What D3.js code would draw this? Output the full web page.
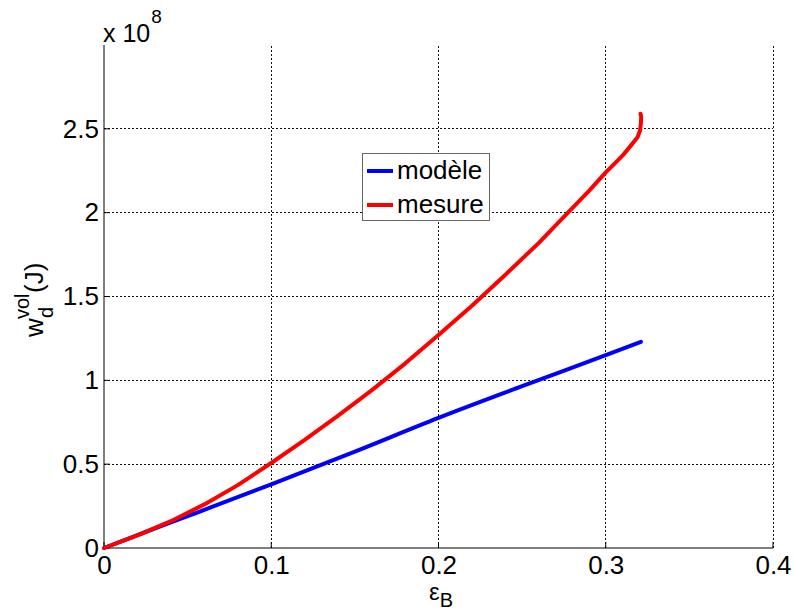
<!DOCTYPE html>
<html>
<head>
<meta charset="utf-8">
<script src="https://cdn.jsdelivr.net/npm/d3@7"></script>
<style>
  body { margin: 0; background: #fff; }
  svg { display: block; font-family: Arial, "Liberation Sans", sans-serif; }
</style>
</head>
<body>
<svg id="chart" width="794" height="615"></svg>
<script>
// Data (y in units of 1e8 J)
const modeleX = [0, 0.02, 0.05, 0.10, 0.15, 0.20, 0.25, 0.30, 0.321];
const modeleY = [0, 0.077, 0.19, 0.38, 0.575, 0.776, 0.965, 1.15, 1.23];

const mesureX = [0, 0.02, 0.04, 0.06, 0.08, 0.10, 0.12, 0.14, 0.16, 0.18, 0.20, 0.22, 0.24, 0.26, 0.2774, 0.29, 0.30, 0.305, 0.31, 0.315, 0.319, 0.3205, 0.321, 0.3212, 0.3208];
const mesureY = [0, 0.075, 0.16, 0.26, 0.375, 0.507, 0.645, 0.79, 0.94, 1.10, 1.27, 1.445, 1.63, 1.82, 2.0, 2.13, 2.24, 2.29, 2.34, 2.40, 2.45, 2.49, 2.53, 2.57, 2.59];

const xTicks = [0, 0.1, 0.2, 0.3, 0.4];
const yTicks = [0, 0.5, 1, 1.5, 2, 2.5];
const seriesNames = ["modèle", "mesure"];
const seriesColors = ["#0000ff", "#ff0000"];

const svg = d3.select("#chart");
const x = d3.scaleLinear().domain([0, 0.4]).range([104, 773]);
const y = d3.scaleLinear().domain([0, 3]).range([548, 45]);

// grid
const grid = svg.append("g").attr("stroke", "#111").attr("stroke-width", 1)
  .attr("stroke-dasharray", "2,2").attr("shape-rendering", "crispEdges");
xTicks.filter(d => d > 0).forEach(t => {
  grid.append("line").attr("x1", x(t)).attr("x2", x(t)).attr("y1", y(0)).attr("y2", y(3));
});
yTicks.filter(d => d > 0).forEach(t => {
  grid.append("line").attr("x1", x(0)).attr("x2", x(0.4)).attr("y1", y(t)).attr("y2", y(t));
});

// axes
const xAxis = d3.axisBottom(x).tickValues(xTicks).tickSize(0).tickPadding(8)
  .tickFormat(d => d === 0 ? "0" : d3.format(".1f")(d));
const gx = svg.append("g").attr("transform", `translate(0,${y(0)})`).call(xAxis);
gx.select(".domain").attr("stroke", "#000").attr("stroke-width", 1).attr("d", `M${x(0)},0H${x(0.4)}`);
gx.selectAll("text").attr("font-size", 26).attr("fill", "#000").attr("font-family", "Arial, 'Liberation Sans', sans-serif");

const yAxis = d3.axisLeft(y).tickValues(yTicks).tickSize(0).tickPadding(5)
  .tickFormat(d => d === 0 ? "0" : (Number.isInteger(d) ? String(d) : d3.format(".1f")(d)));
const gy = svg.append("g").attr("transform", `translate(${x(0)},0)`).call(yAxis);
gy.select(".domain").attr("stroke", "#000").attr("stroke-width", 1).attr("d", `M0,${y(0)}V${y(3)}`);
gy.selectAll("text").attr("font-size", 26).attr("fill", "#000").attr("font-family", "Arial, 'Liberation Sans', sans-serif");

// small inward ticks
const tk = svg.append("g").attr("stroke", "#000").attr("stroke-width", 1);
xTicks.forEach(t => tk.append("line").attr("x1", x(t)).attr("x2", x(t)).attr("y1", y(0)).attr("y2", y(0) - 6));
yTicks.forEach(t => tk.append("line").attr("x1", x(0)).attr("x2", x(0) + 6).attr("y1", y(t)).attr("y2", y(t)));

// lines
const line = d3.line().curve(d3.curveMonotoneX).x(d => x(d[0])).y(d => y(d[1]));
const lineRaw = d3.line().x(d => x(d[0])).y(d => y(d[1]));
svg.append("path").datum(d3.zip(modeleX, modeleY)).attr("d", line)
  .attr("fill", "none").attr("stroke", seriesColors[0]).attr("stroke-width", 4)
  .attr("stroke-linejoin", "round").attr("stroke-linecap", "round");
svg.append("path").datum(d3.zip(mesureX, mesureY)).attr("d", lineRaw)
  .attr("fill", "none").attr("stroke", seriesColors[1]).attr("stroke-width", 4)
  .attr("stroke-linejoin", "round").attr("stroke-linecap", "round");

// exponent label
const ex = svg.append("text").attr("x", 103).attr("y", 42).attr("font-size", 25).attr("fill", "#000");
ex.append("tspan").text("x 10");
ex.append("tspan").attr("font-size", 19).attr("dx", 1).attr("dy", -19).text("8");

// y label
const yl = svg.append("g").attr("transform", "translate(43,337) rotate(-90)").attr("fill", "#000");
yl.append("text").attr("x", 0).attr("y", 0).attr("font-size", 26).text("w");
yl.append("text").attr("x", 18).attr("y", -14).attr("font-size", 20).text("vol");
yl.append("text").attr("x", 19).attr("y", 10).attr("font-size", 20).text("d");
yl.append("text").attr("x", 44).attr("y", 0).attr("font-size", 26).text("(J)");

// x label
const xl = svg.append("text").attr("x", 429).attr("y", 600).attr("fill", "#000");
xl.append("tspan").attr("font-size", 24).text("ε");
xl.append("tspan").attr("font-size", 20).attr("dy", 7).text("B");

// legend
const lg = svg.append("g");
lg.append("rect").attr("x", 362.5).attr("y", 153.5).attr("width", 127).attr("height", 67)
  .attr("fill", "#fff").attr("stroke", "#666").attr("stroke-width", 1);
seriesNames.forEach((n, i) => {
  const cy = 171 + i * 34;
  lg.append("line").attr("x1", 367).attr("x2", 393).attr("y1", cy).attr("y2", cy)
    .attr("stroke", seriesColors[i]).attr("stroke-width", 4);
  lg.append("text").attr("x", 397).attr("y", cy + 8).attr("font-size", 26).attr("fill", "#000").text(n);
});
</script>
</body>
</html>
